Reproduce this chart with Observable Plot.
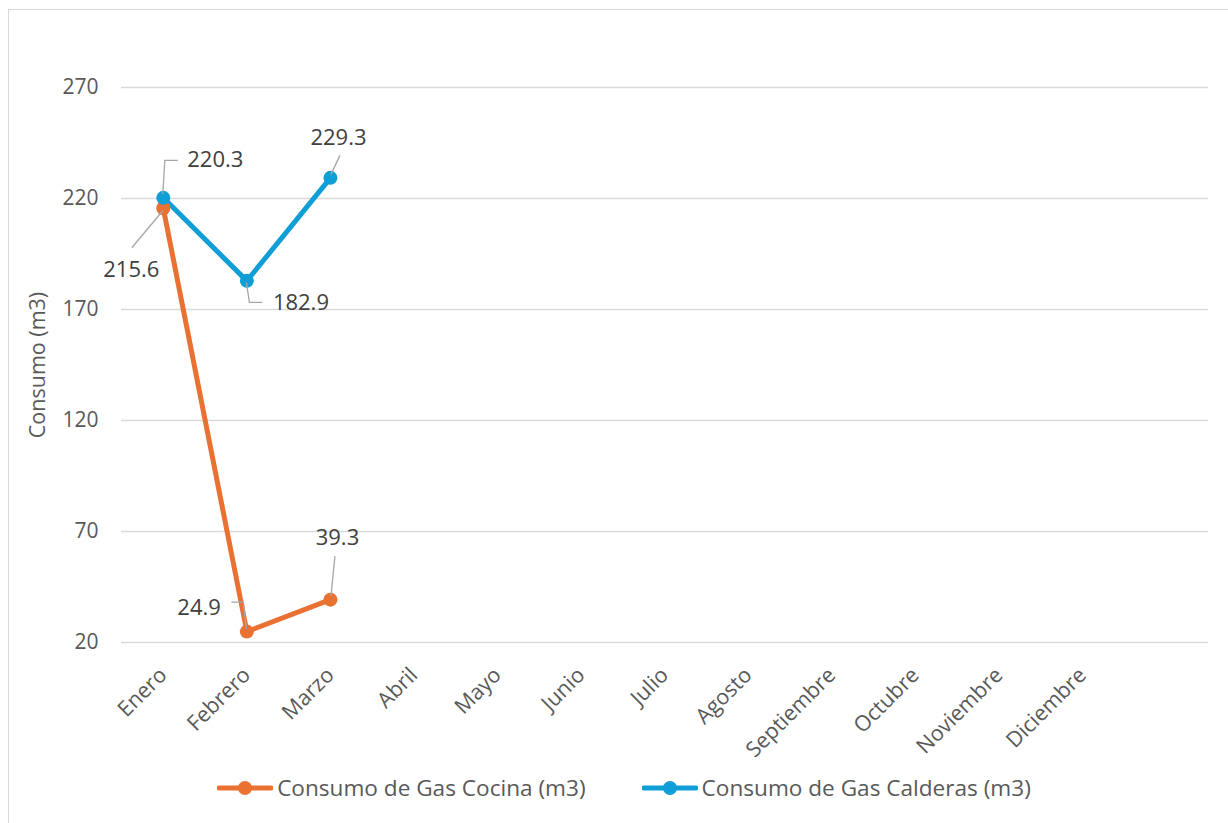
<!DOCTYPE html>
<html>
<head>
<meta charset="utf-8">
<script src="https://cdn.jsdelivr.net/npm/d3@7"></script>
<script src="https://cdn.jsdelivr.net/npm/@observablehq/plot@0.6"></script>
<style>
  html, body { margin: 0; padding: 0; background: #fff; }
  body { width: 1228px; height: 823px; position: relative; overflow: hidden; font-family: "Open Sans", Roboto, sans-serif; }
  #frame { position: absolute; left: 8px; top: 9px; width: 1240px; height: 840px; border: 1px solid #d9d9d9; box-sizing: border-box; }
  #chart { position: absolute; left: 0; top: 0; }
  #legend { position: absolute; left: 10px; top: 772px; width: 1228px; display: flex; justify-content: center; gap: 56px; font-size: 22.6px; color: #595959; }
  .item { display: flex; align-items: center; gap: 4px; }
</style>
</head>
<body>
<div id="frame"></div>
<div id="chart"></div>
<div id="legend"></div>
<script>
const months = ["Enero","Febrero","Marzo","Abril","Mayo","Junio","Julio","Agosto","Septiembre","Octubre","Noviembre","Diciembre"];
const seriesNames = ["Consumo de Gas Cocina (m3)", "Consumo de Gas Calderas (m3)"];
const cocinaValues = [215.6, 24.9, 39.3];
const calderasValues = [220.3, 182.9, 229.3];
const yTicks = [20, 70, 120, 170, 220, 270];
const colors = ["#E97132", "#0F9ED5"];

const data = [
  ...cocinaValues.map((v, i) => ({series: seriesNames[0], month: months[i], value: v})),
  ...calderasValues.map((v, i) => ({series: seriesNames[1], month: months[i], value: v}))
];

// label placement style (pixel offsets from each point): [series index, month index, text dx, dy, anchor, leader path]
const labelStyle = [
  [0, 0, -32, 62, "middle", [[0,3],[-31,40]]],
  [0, 1, -26, -24, "end", [[0,-2],[-3,-29],[-15,-29]]],
  [0, 2, 7, -62, "middle", [[1,-3],[5,-43]]],
  [1, 0, 24, -38, "start", [[0,-3],[2,-37],[15,-37]]],
  [1, 1, 26, 22, "start", [[0,2],[3,22],[16,22]]],
  [1, 2, 8, -40, "middle", [[1,-3],[10,-22]]]
];
const valuesBySeries = [cocinaValues, calderasValues];

const labelMarks = labelStyle.map(([s, m, dx, dy, anchor]) =>
  Plot.text([{month: months[m], value: valuesBySeries[s][m]}], {
    x: "month", y: "value", text: d => d.value.toFixed(1),
    dx, dy, textAnchor: anchor, fontSize: 22, fill: "#404040"
  })
);

const leaderMark = (index, scales, values, dims) => {
  const g = d3.create("svg:g");
  for (const [s, m, , , , path] of labelStyle) {
    const px = scales.x(months[m]);
    const py = scales.y(valuesBySeries[s][m]);
    g.append("path")
      .attr("d", "M" + path.map(([a, b]) => (px + a) + "," + (py + b)).join("L"))
      .attr("fill", "none").attr("stroke", "#a6a6a6").attr("stroke-width", 1.3);
  }
  return g.node();
};

const chart = Plot.plot({
  width: 1228,
  height: 823,
  marginTop: 87,
  marginBottom: 181,
  marginLeft: 121,
  marginRight: 20,
  style: {fontFamily: "'Open Sans', Roboto, sans-serif", background: "transparent"},
  x: {type: "point", domain: months, padding: 0.5, insetRight: 84, round: false},
  y: {domain: [20, 270]},
  color: {domain: seriesNames, range: colors},
  marks: [
    Plot.gridY(yTicks, {stroke: "#d9d9d9", strokeOpacity: 1, strokeWidth: 1.5}),
    Plot.axisY({ticks: yTicks, tickSize: 0, tickPadding: 23, fontSize: 21, color: "#595959",
      label: "Consumo (m3)", labelAnchor: "center", labelArrow: "none", labelOffset: 92}),
    Plot.axisX({tickSize: 0, tickRotate: -45, tickPadding: 29, fontSize: 21.5, color: "#595959", label: null}),
    Plot.line(data, {x: "month", y: "value", z: "series", stroke: "series", strokeWidth: 5, strokeLinejoin: "round"}),
    Plot.dot(data, {x: "month", y: "value", fill: "series", r: 7}),
    leaderMark,
    ...labelMarks
  ]
});
chart.querySelectorAll("g[aria-label='y-axis label']").forEach(el => { el.setAttribute("font-size", "21.5"); el.style.fontSize = "21.5px"; el.setAttribute("fill", "#595959"); });
document.getElementById("chart").appendChild(chart);

const legend = document.getElementById("legend");
seriesNames.forEach((name, i) => {
  const item = document.createElement("div");
  item.className = "item";
  item.innerHTML = `<svg width="56" height="16"><line x1="2" y1="8" x2="54" y2="8" stroke="${colors[i]}" stroke-width="5" stroke-linecap="round"/><circle cx="28" cy="8" r="7" fill="${colors[i]}"/></svg><span>${name}</span>`;
  legend.appendChild(item);
});
</script>
</body>
</html>
